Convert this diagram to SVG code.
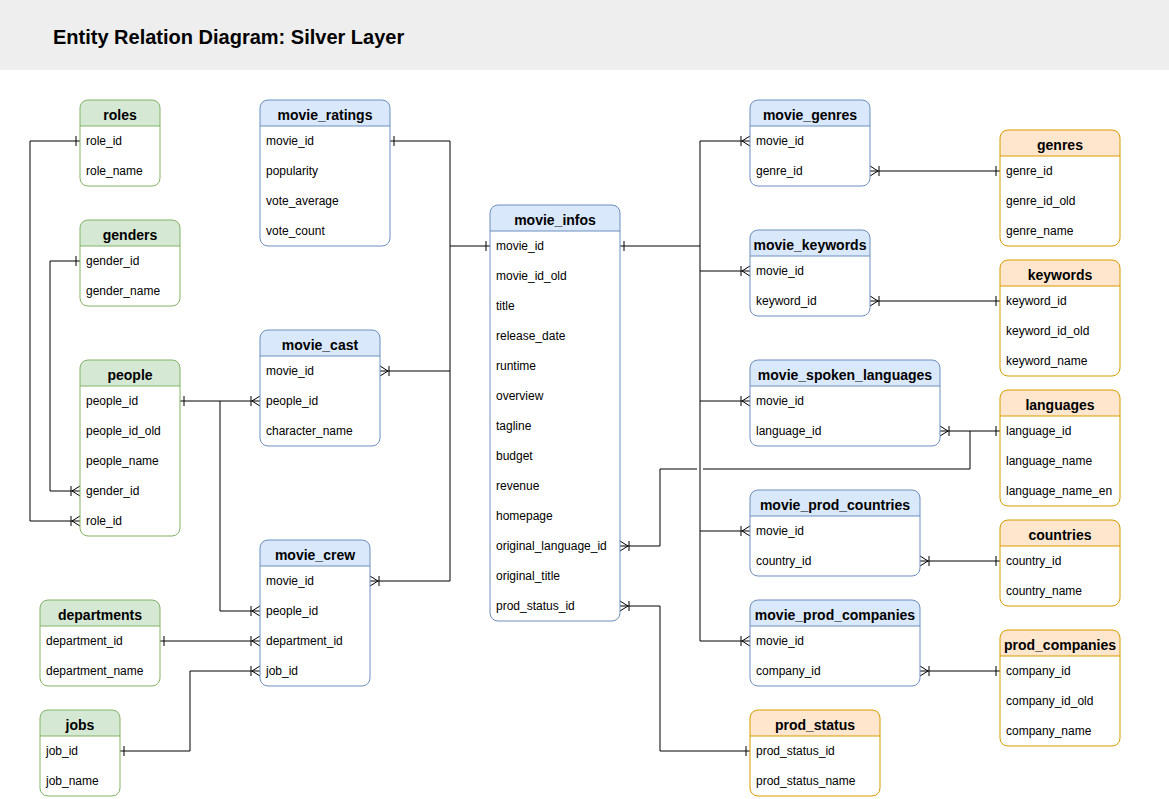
<svg xmlns="http://www.w3.org/2000/svg" width="1169" height="799" viewBox="0 0 1169 799">
<style>
text{font-family:"Liberation Sans",Arial,Helvetica,sans-serif;fill:#000}
.f{font-size:12px}
.h{font-size:14px;font-weight:bold;text-anchor:middle}
.t{font-size:20px;font-weight:bold}
.g .hd{fill:#d5e8d4}.g .bx,.g .ln{stroke:#82b366}
.b .hd{fill:#dae8fc}.b .bx,.b .ln{stroke:#6c8ebf}
.o .hd{fill:#ffe6cc}.o .bx,.o .ln{stroke:#d79b00}
.bx{fill:none;stroke-width:1}
.ln{stroke-width:1}
.c path{fill:none;stroke:#000;stroke-width:1}
</style>
<defs>
<marker id="one" markerUnits="userSpaceOnUse" markerWidth="20" markerHeight="20" viewBox="-10 -10 20 20" refX="0" refY="0" orient="auto-start-reverse" overflow="visible"><path d="M-4,-5V5" stroke="#000" fill="none"/></marker>
<marker id="many" markerUnits="userSpaceOnUse" markerWidth="20" markerHeight="20" viewBox="-10 -10 20 20" refX="0" refY="0" orient="auto-start-reverse" overflow="visible"><path d="M0,-5L-8,0L0,5M-9,-5V5" stroke="#000" fill="none"/></marker>
</defs>
<rect width="1169" height="799" fill="#fff"/>
<rect x="0" y="0" width="1169" height="70" fill="#eeeeee"/>
<text class="t" x="53" y="44">Entity Relation Diagram: Silver Layer</text>

<g class="c" id="connectors">
<path d="M80,141H30V521H80" marker-start="url(#one)" marker-end="url(#many)"/>
<path d="M80,261H50V491H80" marker-start="url(#one)" marker-end="url(#many)"/>
<path d="M180,401H260" marker-start="url(#one)" marker-end="url(#many)"/>
<path d="M220,401V611H260" marker-end="url(#many)"/>
<path d="M160,641H260" marker-start="url(#one)" marker-end="url(#many)"/>
<path d="M120,751H190V671H260" marker-start="url(#one)" marker-end="url(#many)"/>
<path d="M390,141H450V246H490" marker-start="url(#one)" marker-end="url(#one)"/>
<path d="M380,371H450" marker-start="url(#many)"/>
<path d="M370,581H450V246" marker-start="url(#many)"/>
<path d="M620,246H700V141H750" marker-start="url(#one)" marker-end="url(#many)"/>
<path d="M700,246V641H750" marker-end="url(#many)"/>
<path d="M700,271H750" marker-end="url(#many)"/>
<path d="M700,401H750" marker-end="url(#many)"/>
<path d="M700,531H750" marker-end="url(#many)"/>
<path d="M620,546H660V469H697M703,469H970V431" marker-start="url(#many)"/>
<path d="M940,431H1000" marker-start="url(#many)" marker-end="url(#one)"/>
<path d="M620,606H660V751H750" marker-start="url(#many)" marker-end="url(#one)"/>
<path d="M870,171H1000" marker-start="url(#many)" marker-end="url(#one)"/>
<path d="M870,301H1000" marker-start="url(#many)" marker-end="url(#one)"/>
<path d="M920,561H1000" marker-start="url(#many)" marker-end="url(#one)"/>
<path d="M920,671H1000" marker-start="url(#many)" marker-end="url(#one)"/>
</g>

<g id="roles" class="g">
<rect x="80" y="100" width="80" height="86" rx="8" fill="#fff"/>
<path class="hd" d="M80,126V108Q80,100 88,100H152Q160,100 160,108V126Z"/>
<line class="ln" x1="80" y1="126" x2="160" y2="126"/>
<rect class="bx" x="80" y="100" width="80" height="86" rx="8"/>
<text class="h" x="120" y="120">roles</text>
<text class="f" x="86" y="145">role_id</text>
<text class="f" x="86" y="175">role_name</text>
</g>

<g id="genders" class="g">
<rect x="80" y="220" width="100" height="86" rx="8" fill="#fff"/>
<path class="hd" d="M80,246V228Q80,220 88,220H172Q180,220 180,228V246Z"/>
<line class="ln" x1="80" y1="246" x2="180" y2="246"/>
<rect class="bx" x="80" y="220" width="100" height="86" rx="8"/>
<text class="h" x="130" y="240">genders</text>
<text class="f" x="86" y="265">gender_id</text>
<text class="f" x="86" y="295">gender_name</text>
</g>

<g id="people" class="g">
<rect x="80" y="360" width="100" height="176" rx="8" fill="#fff"/>
<path class="hd" d="M80,386V368Q80,360 88,360H172Q180,360 180,368V386Z"/>
<line class="ln" x1="80" y1="386" x2="180" y2="386"/>
<rect class="bx" x="80" y="360" width="100" height="176" rx="8"/>
<text class="h" x="130" y="380">people</text>
<text class="f" x="86" y="405">people_id</text>
<text class="f" x="86" y="435">people_id_old</text>
<text class="f" x="86" y="465">people_name</text>
<text class="f" x="86" y="495">gender_id</text>
<text class="f" x="86" y="525">role_id</text>
</g>

<g id="departments" class="g">
<rect x="40" y="600" width="120" height="86" rx="8" fill="#fff"/>
<path class="hd" d="M40,626V608Q40,600 48,600H152Q160,600 160,608V626Z"/>
<line class="ln" x1="40" y1="626" x2="160" y2="626"/>
<rect class="bx" x="40" y="600" width="120" height="86" rx="8"/>
<text class="h" x="100" y="620">departments</text>
<text class="f" x="46" y="645">department_id</text>
<text class="f" x="46" y="675">department_name</text>
</g>

<g id="jobs" class="g">
<rect x="40" y="710" width="80" height="86" rx="8" fill="#fff"/>
<path class="hd" d="M40,736V718Q40,710 48,710H112Q120,710 120,718V736Z"/>
<line class="ln" x1="40" y1="736" x2="120" y2="736"/>
<rect class="bx" x="40" y="710" width="80" height="86" rx="8"/>
<text class="h" x="80" y="730">jobs</text>
<text class="f" x="46" y="755">job_id</text>
<text class="f" x="46" y="785">job_name</text>
</g>

<g id="movie_ratings" class="b">
<rect x="260" y="100" width="130" height="146" rx="8" fill="#fff"/>
<path class="hd" d="M260,126V108Q260,100 268,100H382Q390,100 390,108V126Z"/>
<line class="ln" x1="260" y1="126" x2="390" y2="126"/>
<rect class="bx" x="260" y="100" width="130" height="146" rx="8"/>
<text class="h" x="325" y="120">movie_ratings</text>
<text class="f" x="266" y="145">movie_id</text>
<text class="f" x="266" y="175">popularity</text>
<text class="f" x="266" y="205">vote_average</text>
<text class="f" x="266" y="235">vote_count</text>
</g>

<g id="movie_cast" class="b">
<rect x="260" y="330" width="120" height="116" rx="8" fill="#fff"/>
<path class="hd" d="M260,356V338Q260,330 268,330H372Q380,330 380,338V356Z"/>
<line class="ln" x1="260" y1="356" x2="380" y2="356"/>
<rect class="bx" x="260" y="330" width="120" height="116" rx="8"/>
<text class="h" x="320" y="350">movie_cast</text>
<text class="f" x="266" y="375">movie_id</text>
<text class="f" x="266" y="405">people_id</text>
<text class="f" x="266" y="435">character_name</text>
</g>

<g id="movie_crew" class="b">
<rect x="260" y="540" width="110" height="146" rx="8" fill="#fff"/>
<path class="hd" d="M260,566V548Q260,540 268,540H362Q370,540 370,548V566Z"/>
<line class="ln" x1="260" y1="566" x2="370" y2="566"/>
<rect class="bx" x="260" y="540" width="110" height="146" rx="8"/>
<text class="h" x="315" y="560">movie_crew</text>
<text class="f" x="266" y="585">movie_id</text>
<text class="f" x="266" y="615">people_id</text>
<text class="f" x="266" y="645">department_id</text>
<text class="f" x="266" y="675">job_id</text>
</g>

<g id="movie_infos" class="b">
<rect x="490" y="205" width="130" height="416" rx="8" fill="#fff"/>
<path class="hd" d="M490,231V213Q490,205 498,205H612Q620,205 620,213V231Z"/>
<line class="ln" x1="490" y1="231" x2="620" y2="231"/>
<rect class="bx" x="490" y="205" width="130" height="416" rx="8"/>
<text class="h" x="555" y="225">movie_infos</text>
<text class="f" x="496" y="250">movie_id</text>
<text class="f" x="496" y="280">movie_id_old</text>
<text class="f" x="496" y="310">title</text>
<text class="f" x="496" y="340">release_date</text>
<text class="f" x="496" y="370">runtime</text>
<text class="f" x="496" y="400">overview</text>
<text class="f" x="496" y="430">tagline</text>
<text class="f" x="496" y="460">budget</text>
<text class="f" x="496" y="490">revenue</text>
<text class="f" x="496" y="520">homepage</text>
<text class="f" x="496" y="550">original_language_id</text>
<text class="f" x="496" y="580">original_title</text>
<text class="f" x="496" y="610">prod_status_id</text>
</g>

<g id="movie_genres" class="b">
<rect x="750" y="100" width="120" height="86" rx="8" fill="#fff"/>
<path class="hd" d="M750,126V108Q750,100 758,100H862Q870,100 870,108V126Z"/>
<line class="ln" x1="750" y1="126" x2="870" y2="126"/>
<rect class="bx" x="750" y="100" width="120" height="86" rx="8"/>
<text class="h" x="810" y="120">movie_genres</text>
<text class="f" x="756" y="145">movie_id</text>
<text class="f" x="756" y="175">genre_id</text>
</g>

<g id="movie_keywords" class="b">
<rect x="750" y="230" width="120" height="86" rx="8" fill="#fff"/>
<path class="hd" d="M750,256V238Q750,230 758,230H862Q870,230 870,238V256Z"/>
<line class="ln" x1="750" y1="256" x2="870" y2="256"/>
<rect class="bx" x="750" y="230" width="120" height="86" rx="8"/>
<text class="h" x="810" y="250">movie_keywords</text>
<text class="f" x="756" y="275">movie_id</text>
<text class="f" x="756" y="305">keyword_id</text>
</g>

<g id="movie_spoken_languages" class="b">
<rect x="750" y="360" width="190" height="86" rx="8" fill="#fff"/>
<path class="hd" d="M750,386V368Q750,360 758,360H932Q940,360 940,368V386Z"/>
<line class="ln" x1="750" y1="386" x2="940" y2="386"/>
<rect class="bx" x="750" y="360" width="190" height="86" rx="8"/>
<text class="h" x="845" y="380">movie_spoken_languages</text>
<text class="f" x="756" y="405">movie_id</text>
<text class="f" x="756" y="435">language_id</text>
</g>

<g id="movie_prod_countries" class="b">
<rect x="750" y="490" width="170" height="86" rx="8" fill="#fff"/>
<path class="hd" d="M750,516V498Q750,490 758,490H912Q920,490 920,498V516Z"/>
<line class="ln" x1="750" y1="516" x2="920" y2="516"/>
<rect class="bx" x="750" y="490" width="170" height="86" rx="8"/>
<text class="h" x="835" y="510">movie_prod_countries</text>
<text class="f" x="756" y="535">movie_id</text>
<text class="f" x="756" y="565">country_id</text>
</g>

<g id="movie_prod_companies" class="b">
<rect x="750" y="600" width="170" height="86" rx="8" fill="#fff"/>
<path class="hd" d="M750,626V608Q750,600 758,600H912Q920,600 920,608V626Z"/>
<line class="ln" x1="750" y1="626" x2="920" y2="626"/>
<rect class="bx" x="750" y="600" width="170" height="86" rx="8"/>
<text class="h" x="835" y="620">movie_prod_companies</text>
<text class="f" x="756" y="645">movie_id</text>
<text class="f" x="756" y="675">company_id</text>
</g>

<g id="prod_status" class="o">
<rect x="750" y="710" width="130" height="86" rx="8" fill="#fff"/>
<path class="hd" d="M750,736V718Q750,710 758,710H872Q880,710 880,718V736Z"/>
<line class="ln" x1="750" y1="736" x2="880" y2="736"/>
<rect class="bx" x="750" y="710" width="130" height="86" rx="8"/>
<text class="h" x="815" y="730">prod_status</text>
<text class="f" x="756" y="755">prod_status_id</text>
<text class="f" x="756" y="785">prod_status_name</text>
</g>

<g id="genres" class="o">
<rect x="1000" y="130" width="120" height="116" rx="8" fill="#fff"/>
<path class="hd" d="M1000,156V138Q1000,130 1008,130H1112Q1120,130 1120,138V156Z"/>
<line class="ln" x1="1000" y1="156" x2="1120" y2="156"/>
<rect class="bx" x="1000" y="130" width="120" height="116" rx="8"/>
<text class="h" x="1060" y="150">genres</text>
<text class="f" x="1006" y="175">genre_id</text>
<text class="f" x="1006" y="205">genre_id_old</text>
<text class="f" x="1006" y="235">genre_name</text>
</g>

<g id="keywords" class="o">
<rect x="1000" y="260" width="120" height="116" rx="8" fill="#fff"/>
<path class="hd" d="M1000,286V268Q1000,260 1008,260H1112Q1120,260 1120,268V286Z"/>
<line class="ln" x1="1000" y1="286" x2="1120" y2="286"/>
<rect class="bx" x="1000" y="260" width="120" height="116" rx="8"/>
<text class="h" x="1060" y="280">keywords</text>
<text class="f" x="1006" y="305">keyword_id</text>
<text class="f" x="1006" y="335">keyword_id_old</text>
<text class="f" x="1006" y="365">keyword_name</text>
</g>

<g id="languages" class="o">
<rect x="1000" y="390" width="120" height="116" rx="8" fill="#fff"/>
<path class="hd" d="M1000,416V398Q1000,390 1008,390H1112Q1120,390 1120,398V416Z"/>
<line class="ln" x1="1000" y1="416" x2="1120" y2="416"/>
<rect class="bx" x="1000" y="390" width="120" height="116" rx="8"/>
<text class="h" x="1060" y="410">languages</text>
<text class="f" x="1006" y="435">language_id</text>
<text class="f" x="1006" y="465">language_name</text>
<text class="f" x="1006" y="495">language_name_en</text>
</g>

<g id="countries" class="o">
<rect x="1000" y="520" width="120" height="86" rx="8" fill="#fff"/>
<path class="hd" d="M1000,546V528Q1000,520 1008,520H1112Q1120,520 1120,528V546Z"/>
<line class="ln" x1="1000" y1="546" x2="1120" y2="546"/>
<rect class="bx" x="1000" y="520" width="120" height="86" rx="8"/>
<text class="h" x="1060" y="540">countries</text>
<text class="f" x="1006" y="565">country_id</text>
<text class="f" x="1006" y="595">country_name</text>
</g>

<g id="prod_companies" class="o">
<rect x="1000" y="630" width="120" height="116" rx="8" fill="#fff"/>
<path class="hd" d="M1000,656V638Q1000,630 1008,630H1112Q1120,630 1120,638V656Z"/>
<line class="ln" x1="1000" y1="656" x2="1120" y2="656"/>
<rect class="bx" x="1000" y="630" width="120" height="116" rx="8"/>
<text class="h" x="1060" y="650">prod_companies</text>
<text class="f" x="1006" y="675">company_id</text>
<text class="f" x="1006" y="705">company_id_old</text>
<text class="f" x="1006" y="735">company_name</text>
</g>
</svg>
